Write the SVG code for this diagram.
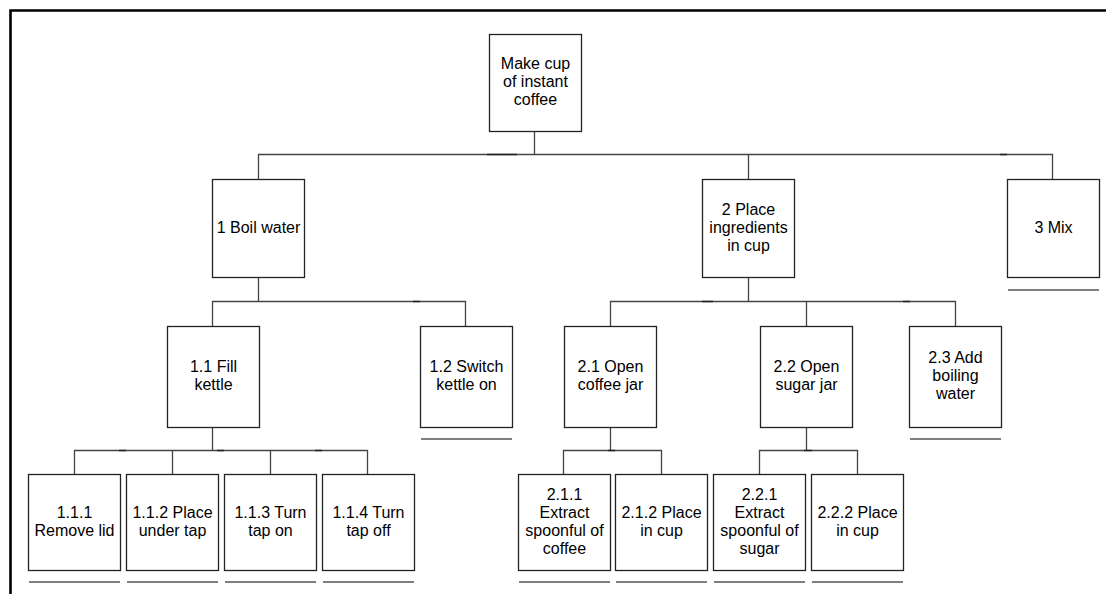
<svg xmlns="http://www.w3.org/2000/svg" width="1106" height="594" viewBox="0 0 1106 594">
<style>
.box{fill:#fff;stroke:#222;stroke-width:1.3}
.conn{fill:none;stroke:#444;stroke-width:1.3}
.dark{fill:none;stroke:#222;stroke-width:1.5}
.ul{fill:none;stroke:#555;stroke-width:1.5}
text{font-family:"Liberation Sans",Arial,sans-serif;font-size:16px;fill:#000;text-anchor:middle}
</style>
<rect width="1106" height="594" fill="#fff"/>
<path d="M10.5,594 V10.5 H1106" fill="none" stroke="#000" stroke-width="2.6"/>
<g id="connectors">
<path class="conn" d="M534.5,131 V154.5 M258.5,179 V154.5 H1052.5 V179 M748.5,154.5 V179"/>
<path class="conn" d="M258.5,277 V301.5 M212.5,326 V301.5 H465.5 V326"/>
<path class="conn" d="M748.5,277 V301.5 M610.5,326 V301.5 H955.5 V326 M806.5,301.5 V326"/>
<path class="conn" d="M212.5,427 V450.5 M74.5,474 V450.5 H367.5 V474 M172.5,450.5 V474 M270.5,450.5 V474"/>
<path class="conn" d="M610.5,427 V450.5 M563.5,474 V450.5 H661.5 V474"/>
<path class="conn" d="M806.5,427 V450.5 M759.5,474 V450.5 H857.5 V474"/>
<path class="dark" d="M487,154.5 H517 M1000,154.5 H1007 M413,301.5 H420 M702,301.5 H713 M903,301.5 H910 M119,450.5 H126 M217,450.5 H224 M315,450.5 H322 M608,450.5 H615 M804,450.5 H812"/>
</g>
<g id="n0"><rect class="box" x="489.5" y="34.5" width="92" height="97"/><text x="535.5" y="69">Make cup</text><text x="535.5" y="87">of instant</text><text x="535.5" y="105">coffee</text></g>
<g id="n1"><rect class="box" x="212.5" y="179.5" width="92" height="98"/><text x="258.5" y="233">1 Boil water</text></g>
<g id="n2"><rect class="box" x="702.5" y="179.5" width="92" height="98"/><text x="748.5" y="215">2 Place</text><text x="748.5" y="233">ingredients</text><text x="748.5" y="251">in cup</text></g>
<g id="n3"><rect class="box" x="1007.5" y="179.5" width="92" height="98"/><text x="1053.5" y="233">3 Mix</text><path class="ul" d="M1008,290 H1099"/></g>
<g id="n11"><rect class="box" x="167.5" y="326.5" width="92" height="101"/><text x="213.5" y="372">1.1 Fill</text><text x="213.5" y="390">kettle</text></g>
<g id="n12"><rect class="box" x="420.5" y="326.5" width="92" height="101"/><text x="466.5" y="372">1.2 Switch</text><text x="466.5" y="390">kettle on</text><path class="ul" d="M421,439 H512"/></g>
<g id="n21"><rect class="box" x="564.5" y="326.5" width="92" height="101"/><text x="610.5" y="372">2.1 Open</text><text x="610.5" y="390">coffee jar</text></g>
<g id="n22"><rect class="box" x="760.5" y="326.5" width="92" height="101"/><text x="806.5" y="372">2.2 Open</text><text x="806.5" y="390">sugar jar</text></g>
<g id="n23"><rect class="box" x="909.5" y="326.5" width="92" height="101"/><text x="955.5" y="362.5">2.3 Add</text><text x="955.5" y="380.5">boiling</text><text x="955.5" y="398.5">water</text><path class="ul" d="M910,439 H1001"/></g>
<g id="n111"><rect class="box" x="28.5" y="474.5" width="92" height="96"/><text x="74.5" y="518">1.1.1</text><text x="74.5" y="536">Remove lid</text><path class="ul" d="M29,582 H120"/></g>
<g id="n112"><rect class="box" x="126.5" y="474.5" width="92" height="96"/><text x="172.5" y="518">1.1.2 Place</text><text x="172.5" y="536">under tap</text><path class="ul" d="M127,582 H218"/></g>
<g id="n113"><rect class="box" x="224.5" y="474.5" width="92" height="96"/><text x="270.5" y="518">1.1.3 Turn</text><text x="270.5" y="536">tap on</text><path class="ul" d="M225,582 H316"/></g>
<g id="n114"><rect class="box" x="322.5" y="474.5" width="92" height="96"/><text x="368.5" y="518">1.1.4 Turn</text><text x="368.5" y="536">tap off</text><path class="ul" d="M323,582 H414"/></g>
<g id="n211"><rect class="box" x="518.5" y="474.5" width="92" height="96"/><text x="564.5" y="499.5">2.1.1</text><text x="564.5" y="517.5">Extract</text><text x="564.5" y="535.5">spoonful of</text><text x="564.5" y="553.5">coffee</text><path class="ul" d="M519,582 H610"/></g>
<g id="n212"><rect class="box" x="615.5" y="474.5" width="92" height="96"/><text x="661.5" y="518">2.1.2 Place</text><text x="661.5" y="536">in cup</text><path class="ul" d="M616,582 H707"/></g>
<g id="n221"><rect class="box" x="713.5" y="474.5" width="92" height="96"/><text x="759.5" y="499.5">2.2.1</text><text x="759.5" y="517.5">Extract</text><text x="759.5" y="535.5">spoonful of</text><text x="759.5" y="553.5">sugar</text><path class="ul" d="M714,582 H805"/></g>
<g id="n222"><rect class="box" x="811.5" y="474.5" width="92" height="96"/><text x="857.5" y="518">2.2.2 Place</text><text x="857.5" y="536">in cup</text><path class="ul" d="M812,582 H903"/></g>
</svg>
